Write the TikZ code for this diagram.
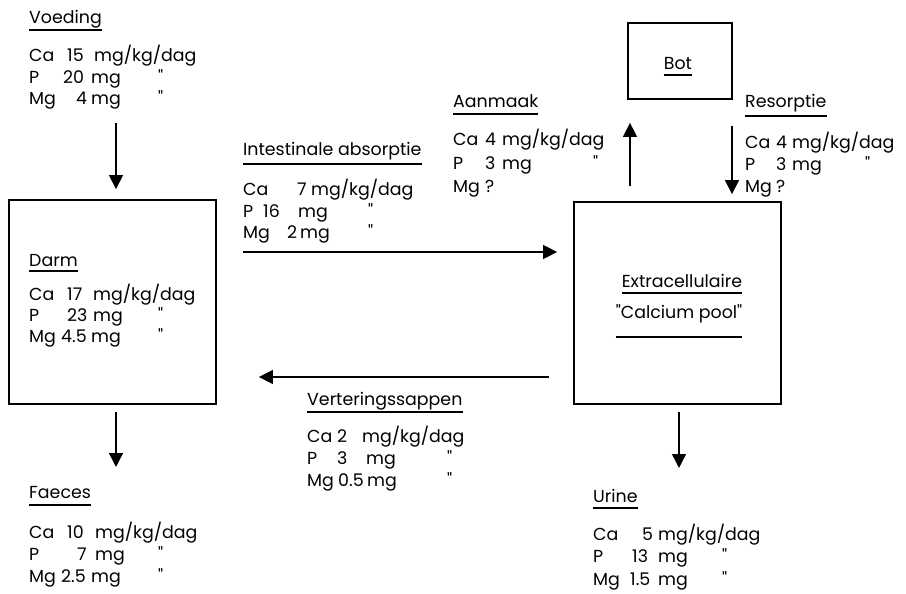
\documentclass[tikz,border=0pt]{standalone}
\usepackage{fontspec}
\setmainfont{Poppins}[Ligatures=TeXOff]
\usetikzlibrary{arrows.meta}
\newcommand\cb[2]{\makebox[#1pt][l]{#2}}
\begin{document}
\begin{tikzpicture}[x=1pt,y=-1pt,
  txt/.style={anchor=base west,inner sep=0pt,font=\fontsize{17.4}{20}\selectfont},
  ctxt/.style={anchor=base,inner sep=0pt,font=\fontsize{17.4}{20}\selectfont},
  box/.style={draw,line width=1.8pt,inner sep=0pt},
  arr/.style={line width=1.4pt,-{Triangle[width=14pt,length=14pt]}},
  ul/.style={line width=1.2pt}]
\useasboundingbox (0,0) rectangle (906,594);

% boxes
\node[box,minimum width=207pt,minimum height=204pt] (darm) at (112.5,302) {};
\node[box,minimum width=207pt,minimum height=202pt] (extra) at (677.5,303) {};
\node[box,minimum width=104pt,minimum height=76pt] (bot) at (680,61) {};

% Voeding
\node[txt] (vt) at (29,24) {Voeding};
\draw[ul] ([yshift=-6pt]vt.base west) -- ([yshift=-6pt]vt.base east);
\node[txt] (v1) at (29,62) {\cb{38}{Ca}\cb{27}{15}mg/kg/dag};
\node[txt] (v2) at (29,84) {\cb{34}{P}\cb{28}{20}\cb{67}{mg}"};
\node[txt] (v3) at (29,105) {\cb{47}{Mg}\cb{15}{4}\cb{67}{mg}"};

% Darm
\node[txt] (dt) at (29,266) {Darm};
\draw[ul] ([yshift=-5pt]dt.base west) -- ([yshift=-5pt]dt.base east);
\node[txt] (d1) at (29,300) {\cb{38}{Ca}\cb{26}{17}mg/kg/dag};
\node[txt] (d2) at (29,321) {\cb{38}{P}\cb{26}{23}\cb{65}{mg}"};
\node[txt] (d3) at (29,342) {\cb{32}{Mg}\cb{30}{4.5}\cb{67}{mg}"};

% Faeces
\node[txt] (ft) at (29,498) {Faeces};
\draw[ul] ([yshift=-7pt]ft.base west) -- ([yshift=-7pt]ft.base east);
\node[txt] (f1) at (29,538) {\cb{38}{Ca}\cb{28}{10}mg/kg/dag};
\node[txt] (f2) at (29,560) {\cb{48}{P}\cb{18}{7}\cb{63}{mg}"};
\node[txt] (f3) at (29,582) {\cb{32}{Mg}\cb{30}{2.5}\cb{67}{mg}"};

% Intestinale absorptie
\node[txt] (it) at (243,155) {Intestinale absorptie};
\draw[ul] ([yshift=-9pt]it.base west) -- ([yshift=-9pt]it.base east);
\node[txt] (i1) at (243,195) {\cb{54}{Ca}\cb{14}{7}mg/kg/dag};
\node[txt] (i2) at (243,217) {\cb{20}{P}\cb{35}{16}\cb{70}{mg}"};
\node[txt] (i3) at (243,238) {\cb{44}{Mg}\cb{13}{2}\cb{68}{mg}"};

% Aanmaak
\node[txt] (at) at (453,107) {Aanmaak};
\draw[ul] ([yshift=-7pt]at.base west) -- ([yshift=-7pt]at.base east);
\node[txt] (a1) at (453,146) {\cb{32}{Ca}\cb{17}{4}mg/kg/dag};
\node[txt] (a2) at (453,169) {\cb{32}{P}\cb{17}{3}\cb{91}{mg}"};
\node[txt] (a3) at (453,192) {\cb{32}{Mg}?};

% Bot
\node[ctxt] (bt) at (678,70) {Bot};
\draw[ul] ([yshift=-5pt]bt.base west) -- ([yshift=-5pt]bt.base east);

% Resorptie
\node[txt] (rt) at (745,108) {Resorptie};
\draw[ul] ([yshift=-8pt]rt.base west) -- ([yshift=-8pt]rt.base east);
\node[txt] (r1) at (745,148) {\cb{31}{Ca}\cb{16}{4}mg/kg/dag};
\node[txt] (r2) at (745,170) {\cb{31}{P}\cb{16}{3}\cb{73}{mg}"};
\node[txt] (r3) at (745,192) {\cb{31}{Mg}?};

% Extracellulaire
\node[ctxt] (et) at (682,287) {Extracellulaire};
\draw[ul] ([yshift=-6pt]et.base west) -- ([yshift=-6pt]et.base east);
\node[ctxt] (ec) at (679,318) {"Calcium pool"};
\draw[ul] ([yshift=-19pt]ec.base west) -- ([yshift=-19pt]ec.base east);

% Verteringssappen
\node[txt] (vst) at (307,405) {Verteringssappen};
\draw[ul] ([yshift=-7pt]vst.base west) -- ([yshift=-7pt]vst.base east);
\node[txt] (s1) at (307,442) {\cb{30}{Ca}\cb{25}{2}mg/kg/dag};
\node[txt] (s2) at (307,464) {\cb{30}{P}\cb{29}{3}\cb{81}{mg}"};
\node[txt] (s3) at (307,486) {\cb{31}{Mg}\cb{29}{0.5}\cb{80}{mg}"};

% Urine
\node[txt] (ut) at (593,502) {Urine};
\draw[ul] ([yshift=-6pt]ut.base west) -- ([yshift=-6pt]ut.base east);
\node[txt] (u1) at (593,540) {\cb{49}{Ca}\cb{16}{5}mg/kg/dag};
\node[txt] (u2) at (593,562) {\cb{39}{P}\cb{26}{13}\cb{64}{mg}"};
\node[txt] (u3) at (593,585) {\cb{37}{Mg}\cb{28}{1.5}\cb{64}{mg}"};

% connectors
\coordinate (vs) at (116,123);
\draw[arr,shorten >=10pt] (vs) -- (vs |- darm.north);
\coordinate (ds) at (116,412);
\draw[arr] (ds) -- (116,467) coordinate (de);
\coordinate (is) at (243,252);
\draw[arr,shorten >=16pt] (is) -- (is -| extra.west);
\coordinate (vsa) at (extra.west |- 0,377);
\draw[arr,shorten <=24pt,shorten >=42pt] (vsa) -- (vsa -| darm.east);
\coordinate (up) at (630,0);
\draw[arr,shorten <=15pt,shorten >=23pt] (up |- extra.north) -- (up |- bot.south);
\coordinate (dn) at (732,0);
\draw[arr,shorten <=26pt,shorten >=7pt] (dn |- bot.south) -- (dn |- extra.north);
\coordinate (us) at (679,412);
\draw[arr] (us) -- (679,468) coordinate (ue);
\end{tikzpicture}
\end{document}
